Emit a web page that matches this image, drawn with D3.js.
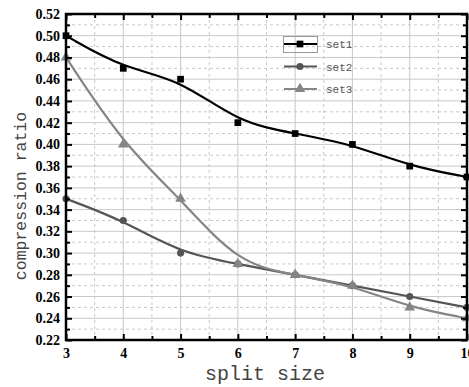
<!DOCTYPE html>
<html>
<head>
<meta charset="utf-8">
<script src="https://cdn.jsdelivr.net/npm/d3@7"></script>
<style>
  html, body { margin: 0; padding: 0; background: #fff; }
  svg { display: block; }
  .tick text { font-family: "Liberation Serif", serif; font-weight: bold; font-size: 14px; fill: #000; }
</style>
</head>
<body>
<div id="chart"></div>
<script>
var splitSize = [3, 4, 5, 6, 7, 8, 9, 10];
var set1 = [0.50, 0.47, 0.46, 0.42, 0.41, 0.40, 0.38, 0.37];
var set2 = [0.35, 0.33, 0.30, 0.29, 0.28, 0.27, 0.26, 0.25];
var set3 = [0.48, 0.40, 0.35, 0.29, 0.28, 0.27, 0.25, 0.24];
var seriesNames = ['set1', 'set2', 'set3'];
var yMajor = [0.22, 0.24, 0.26, 0.28, 0.30, 0.32, 0.34, 0.36, 0.38, 0.40, 0.42, 0.44, 0.46, 0.48, 0.50, 0.52];
var yMinor = [0.23, 0.25, 0.27, 0.29, 0.31, 0.33, 0.35, 0.37, 0.39, 0.41, 0.43, 0.45, 0.47, 0.49, 0.51];
var xMajor = [3, 4, 5, 6, 7, 8, 9, 10];
var xMinor = [3.5, 4.5, 5.5, 6.5, 7.5, 8.5, 9.5];

var W = 469, H = 387,
    pL = 66, pR = 467, pT = 14, pB = 340;

var svg = d3.select('#chart').append('svg')
    .attr('width', W)
    .attr('height', H);

var x = d3.scaleLinear().domain([3, 10]).range([pL, pR]);
var y = d3.scaleLinear().domain([0.22, 0.52]).range([pB, pT]);

// grid
var grid = svg.append('g');
grid.selectAll('.vmaj').data(xMajor.slice(1, -1)).enter().append('line')
    .attr('x1', function(d){ return x(d); }).attr('x2', function(d){ return x(d); })
    .attr('y1', pT).attr('y2', pB)
    .attr('stroke', '#c8c8c8').attr('stroke-width', 1);
grid.selectAll('.vmin').data(xMinor).enter().append('line')
    .attr('x1', function(d){ return x(d); }).attr('x2', function(d){ return x(d); })
    .attr('y1', pT).attr('y2', pB)
    .attr('stroke', '#c8c8c8').attr('stroke-width', 1).attr('stroke-dasharray', '3,3');
grid.selectAll('.hmaj').data(yMajor.slice(1, -1)).enter().append('line')
    .attr('y1', function(d){ return y(d); }).attr('y2', function(d){ return y(d); })
    .attr('x1', pL).attr('x2', pR)
    .attr('stroke', '#c8c8c8').attr('stroke-width', 1);
grid.selectAll('.hmin').data(yMinor).enter().append('line')
    .attr('y1', function(d){ return y(d); }).attr('y2', function(d){ return y(d); })
    .attr('x1', pL).attr('x2', pR)
    .attr('stroke', '#c8c8c8').attr('stroke-width', 1).attr('stroke-dasharray', '3,3');

// series
var series = [
  { name: 'set1', values: set1, color: '#000000', symbol: d3.symbolSquare, size: 45 },
  { name: 'set2', values: set2, color: '#555555', symbol: d3.symbolCircle, size: 40 },
  { name: 'set3', values: set3, color: '#858585', symbol: d3.symbolTriangle, size: 50 }
];

var line = d3.line()
    .x(function(d){ return x(d[0]); })
    .y(function(d){ return y(d[1]); })
    .curve(d3.curveBasis);

series.forEach(function(s){
  var pts = splitSize.map(function(v, i){ return [v, s.values[i]]; });
  svg.append('path')
      .datum(pts)
      .attr('d', line)
      .attr('fill', 'none')
      .attr('stroke', s.color)
      .attr('stroke-width', 2.2);
  svg.selectAll(null).data(pts).enter().append('path')
      .attr('d', d3.symbol().type(s.symbol).size(s.size))
      .attr('transform', function(d){ return 'translate(' + x(d[0]) + ',' + y(d[1]) + ')'; })
      .attr('fill', s.color);
});

// axes (ticks inward)
function styleAxis(g){
  g.select('.domain').remove();
  g.selectAll('.tick line').attr('stroke', '#000').attr('stroke-width', 2);
}

svg.append('g').attr('transform', 'translate(' + pL + ',0)')
    .call(d3.axisLeft(y).tickValues(yMajor).tickFormat(d3.format('.2f'))
      .tickSizeInner(-6).tickSizeOuter(0).tickPadding(6))
    .call(styleAxis);
svg.append('g').attr('transform', 'translate(' + pL + ',0)')
    .call(d3.axisLeft(y).tickValues(yMinor).tickFormat('')
      .tickSizeInner(-4).tickSizeOuter(0))
    .call(styleAxis);
svg.append('g').attr('transform', 'translate(' + pR + ',0)')
    .call(d3.axisRight(y).tickValues(yMajor).tickFormat('')
      .tickSizeInner(-6).tickSizeOuter(0))
    .call(styleAxis);
svg.append('g').attr('transform', 'translate(' + pR + ',0)')
    .call(d3.axisRight(y).tickValues(yMinor).tickFormat('')
      .tickSizeInner(-4).tickSizeOuter(0))
    .call(styleAxis);

svg.append('g').attr('transform', 'translate(0,' + pB + ')')
    .call(d3.axisBottom(x).tickValues(xMajor).tickFormat(d3.format('d'))
      .tickSizeInner(-6).tickSizeOuter(0).tickPadding(8))
    .call(styleAxis);
svg.append('g').attr('transform', 'translate(0,' + pB + ')')
    .call(d3.axisBottom(x).tickValues(xMinor).tickFormat('')
      .tickSizeInner(-4).tickSizeOuter(0))
    .call(styleAxis);
svg.append('g').attr('transform', 'translate(0,' + pT + ')')
    .call(d3.axisTop(x).tickValues(xMajor).tickFormat('')
      .tickSizeInner(-6).tickSizeOuter(0))
    .call(styleAxis);
svg.append('g').attr('transform', 'translate(0,' + pT + ')')
    .call(d3.axisTop(x).tickValues(xMinor).tickFormat('')
      .tickSizeInner(-4).tickSizeOuter(0))
    .call(styleAxis);

// frame
svg.append('rect')
    .attr('x', pL).attr('y', pT)
    .attr('width', pR - pL).attr('height', pB - pT)
    .attr('fill', 'none').attr('stroke', '#000').attr('stroke-width', 2.5);

// legend
var lg = svg.append('g');
lg.append('rect')
    .attr('x', 283.5).attr('y', 36.5).attr('width', 34).attr('height', 16)
    .attr('fill', 'none').attr('stroke', '#999').attr('stroke-width', 1);
series.forEach(function(s, i){
  var ly = 44 + i * 22.5;
  lg.append('line')
      .attr('x1', 284).attr('x2', 317).attr('y1', ly).attr('y2', ly)
      .attr('stroke', s.color).attr('stroke-width', 2.2);
  lg.append('path')
      .attr('d', d3.symbol().type(s.symbol).size(s.size))
      .attr('transform', 'translate(300,' + ly + ')')
      .attr('fill', s.color);
  lg.append('text')
      .attr('x', 326).attr('y', ly + 4)
      .attr('font-family', '"Liberation Mono", monospace')
      .attr('font-size', 11)
      .attr('fill', '#555')
      .text(seriesNames[i]);
});

// axis titles
svg.append('text')
    .attr('x', 265).attr('y', 380)
    .attr('text-anchor', 'middle')
    .attr('font-family', '"Liberation Mono", monospace')
    .attr('font-size', 20)
    .attr('fill', '#444')
    .text('split size');
svg.append('text')
    .attr('transform', 'translate(26,196) rotate(-90)')
    .attr('text-anchor', 'middle')
    .attr('font-family', '"Liberation Mono", monospace')
    .attr('font-size', 16.5)
    .attr('fill', '#444')
    .text('compression ratio');
</script>
</body>
</html>
